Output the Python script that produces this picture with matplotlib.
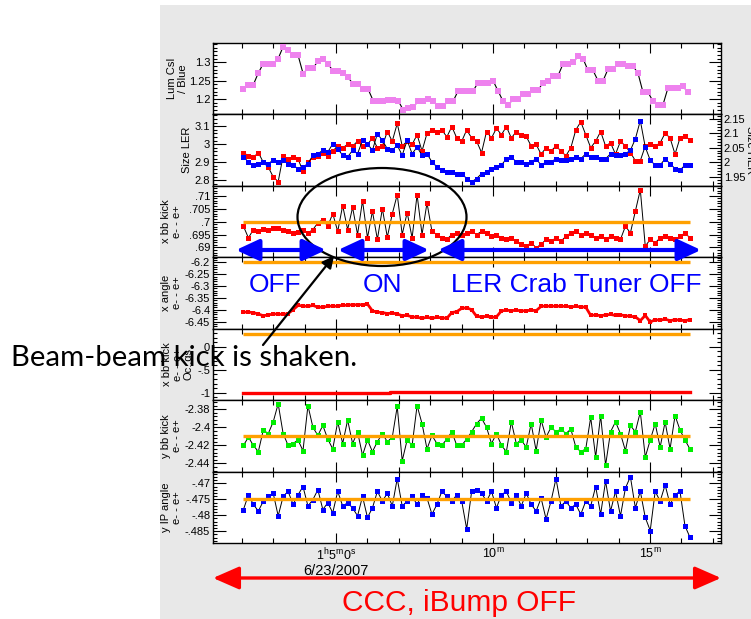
import numpy as np
import matplotlib
matplotlib.use('Agg')
import matplotlib.pyplot as plt
from matplotlib.patches import Ellipse, FancyArrowPatch, Rectangle, ArrowStyle
from matplotlib.ticker import AutoMinorLocator, MultipleLocator

plt.rcParams['font.family'] = ['Liberation Sans', 'DejaVu Sans']

# ---------------- data (time in minutes after 1h00m, 6/23/2007) ----------------
t_span = (2.05, 16.27)
lum_span = (2.04, 16.21)
x_limits = (1.08, 17.26)

lum = [1.227, 1.238, 1.238, 1.270, 1.296, 1.296, 1.296, 1.310, 1.343, 1.333,
       1.319, 1.319, 1.269, 1.285, 1.285, 1.304, 1.310, 1.296, 1.276, 1.276,
       1.270, 1.259, 1.241, 1.241, 1.227, 1.227, 1.196, 1.196, 1.196, 1.198,
       1.198, 1.196, 1.171, 1.175, 1.178, 1.194, 1.194, 1.200, 1.194, 1.180,
       1.180, 1.194, 1.194, 1.222,
       1.222, 1.222, 1.222, 1.245, 1.245, 1.245, 1.250, 1.222, 1.194, 1.183,
       1.200, 1.200, 1.213, 1.213, 1.224, 1.224, 1.245, 1.250, 1.264, 1.264,
       1.296, 1.296, 1.300, 1.317, 1.310, 1.278, 1.278, 1.250, 1.250, 1.282,
       1.282, 1.296, 1.296, 1.290, 1.290, 1.270, 1.218, 1.218, 1.194, 1.185,
       1.185, 1.231, 1.231, 1.231, 1.235, 1.218]

size_ler = [2.953, 2.935, 2.926, 2.953, 2.899, 2.872, 2.818, 2.791, 2.935, 2.917,
            2.926, 2.917, 2.850, 2.899, 2.926, 2.935, 2.953, 2.935, 2.962, 2.989,
            2.980, 2.998, 2.989, 3.016, 2.989, 2.998, 3.034, 2.980, 2.989, 3.070,
            3.016, 3.115, 2.990, 3.016, 2.998, 3.052, 2.962, 3.060, 3.079, 3.070,
            3.079, 3.040, 3.097, 3.034,
            3.016, 3.079, 3.034, 3.016, 2.953, 3.070, 3.034, 3.088, 3.052, 3.097,
            3.034, 3.070, 3.052, 3.043, 2.989, 2.998, 2.944, 2.980, 2.962, 2.989,
            2.962, 2.935, 2.980, 3.079, 3.124, 3.052, 2.980, 3.016, 3.070, 2.989,
            3.007, 2.944, 3.016, 2.989, 2.953, 2.908, 2.908, 2.989, 2.998, 2.989,
            3.007, 3.061, 3.034, 2.944, 3.034, 3.043, 3.025]

size_her = [2.018, 2.001, 1.990, 1.995, 2.001, 1.995, 2.007, 2.001, 2.007, 1.995,
            1.990, 1.978, 1.984, 1.995, 2.024, 2.029, 2.041, 2.035, 2.063, 2.046,
            2.024, 2.018, 2.041, 2.029, 2.075, 2.063, 2.041, 2.098, 2.075, 2.046,
            2.041, 2.058, 2.024, 2.075, 2.029, 2.052, 2.024, 2.029, 2.001, 1.984,
            1.973, 1.967, 1.967, 1.961,
            1.961, 1.944, 1.933, 1.944, 1.961, 1.967, 1.978, 1.984, 1.990, 2.012,
            2.018, 2.001, 2.001, 1.995, 2.001, 2.012, 1.990, 2.001, 2.001, 2.012,
            2.007, 2.007, 2.012, 2.018, 2.012, 2.029, 2.018, 2.018, 2.012, 2.012,
            2.029, 2.024, 2.024, 2.029, 2.041, 2.080, 2.143, 2.052, 2.007, 1.990,
            1.990, 2.012, 1.995, 1.978, 1.973, 1.990, 1.990]

x_bb_kick = [.6982, .6937, .6969, .6962, .6971, .6969, .6974, .6974, .6969, .6962,
             .6956, .6959, .6969, .6956, .6969, .6995, .7008, .6982, .7031, .6962,
             .7062, .6969, .7055, .6950, .7081, .6937, .7040, .6931, .7050, .6940,
             .7030, .7104, .6950, .7035, .6937, .7104, .6950, .7072, .6962, .6950,
             .6937, .6931, .6950, .6956,
             .6950, .6956, .6962, .6950, .6962, .6956, .6943, .6950, .6937, .6931,
             .6937, .6924, .6912, .6905, .6918, .6899, .6912, .6931, .6924, .6937,
             .6924, .6943, .6956, .6962, .6950, .6956, .6950, .6937, .6943, .6931,
             .6943, .6937, .6931, .6982, .6956, .7040, .7123, .6905, .6931, .6918,
             .6937, .6943, .6937, .6931, .6943, .6956, .6937]

x_angle = [-6.410, -6.410, -6.412, -6.418, -6.425, -6.422, -6.418, -6.418, -6.420, -6.416,
           -6.400, -6.382, -6.384, -6.386, -6.382, -6.389, -6.389, -6.386, -6.384, -6.386,
           -6.380, -6.382, -6.378, -6.380, -6.378, -6.376, -6.405, -6.410, -6.412, -6.416,
           -6.414, -6.418, -6.425, -6.424, -6.430, -6.432, -6.436, -6.432, -6.436, -6.432,
           -6.434, -6.436, -6.412, -6.408,
           -6.394, -6.392, -6.400, -6.428, -6.430, -6.428, -6.432, -6.430, -6.405, -6.402,
           -6.404, -6.402, -6.405, -6.404, -6.402, -6.404, -6.386, -6.384, -6.386, -6.384,
           -6.386, -6.385, -6.388, -6.386, -6.388, -6.389, -6.424, -6.422, -6.425, -6.422,
           -6.420, -6.424, -6.422, -6.425, -6.428, -6.430, -6.446, -6.424, -6.452, -6.442,
           -6.444, -6.440, -6.446, -6.442, -6.444, -6.446, -6.442]

x_bb_osc = [-1.0, -1.0, -0.995, -1.0, -1.0, -0.995, -1.0, -0.995, -1.0, -0.995,
            -0.99, -0.985, -0.99, -0.985, -0.99, -0.99, -0.985, -0.99, -0.985, -0.985,
            -0.99, -0.985, -0.99, -0.99, -0.985, -0.985, -0.98, -0.985, -0.98, -0.98]

y_bb_kick = [-2.420, -2.411, -2.420, -2.427, -2.403, -2.407, -2.394, -2.374, -2.407, -2.420,
             -2.418, -2.414, -2.426, -2.376, -2.400, -2.409, -2.398, -2.413, -2.424, -2.394,
             -2.418, -2.392, -2.418, -2.405, -2.431, -2.414, -2.427, -2.416, -2.407, -2.416,
             -2.411, -2.377, -2.437, -2.414, -2.420, -2.376, -2.396, -2.424, -2.409, -2.418,
             -2.420, -2.413, -2.405, -2.420,
             -2.420, -2.413, -2.405, -2.396, -2.390, -2.400, -2.418, -2.407, -2.420, -2.427,
             -2.394, -2.418, -2.414, -2.422, -2.396, -2.426, -2.392, -2.411, -2.400, -2.405,
             -2.402, -2.407, -2.402, -2.422, -2.427, -2.424, -2.389, -2.433, -2.387, -2.442,
             -2.405, -2.394, -2.407, -2.426, -2.398, -2.405, -2.383, -2.433, -2.414, -2.396,
             -2.422, -2.394, -2.424, -2.387, -2.403, -2.414, -2.424]

y_ip_angle = [-.4782, -.4736, -.4766, -.4787, -.4756, -.4741, -.4731, -.4802, -.4741, -.4725,
              -.4766, -.4736, -.4710, -.4771, -.4751, -.4720, -.4782, -.4761, -.4792, -.4725,
              -.4771, -.4761, -.4777, -.4802, -.4741, -.4807, -.4777, -.4725, -.4756, -.4731,
              -.4771, -.4685, -.4771, -.4756, -.4741, -.4766, -.4736, -.4746, -.4797, -.4766,
              -.4725, -.4741, -.4756, -.4736,
              -.4756, -.4843, -.4725, -.4720, -.4731, -.4756, -.4725, -.4777, -.4736, -.4725,
              -.4761, -.4736, -.4771, -.4731, -.4766, -.4787, -.4746, -.4812, -.4756, -.4685,
              -.4771, -.4756, -.4777, -.4766, -.4797, -.4756, -.4771, -.4710, -.4797, -.4693,
              -.4787, -.4725, -.4802, -.4715, -.4679, -.4777, -.4725, -.4807, -.4848, -.4725,
              -.4756, -.4705, -.4766, -.4736, -.4725, -.4833, -.4869]

# reference (orange) levels
ref_x_bb_kick = 0.7
ref_x_angle = -6.2
ref_x_bb_osc = 0.285
ref_y_bb_kick = -2.41
ref_y_ip_angle = -0.475

# axis settings
ylabels = ['Lum CsI\n/ Blue', 'Size LER', 'x bb kick\ne- - e+', 'x angle\ne- - e+',
           'x bb kick\ne- - e+\nOc..gs', 'y bb kick\ne- - e+', 'y IP angle\ne- - e+']
ylims = [(1.158, 1.353), (2.768, 3.165), (0.6862, 0.7138), (-6.48, -6.179),
         (-1.16, 0.394), (-2.449, -2.370), (-0.4887, -0.4663)]
yticks = [[1.2, 1.25, 1.3], [2.8, 2.9, 3.0, 3.1], [.69, .695, .7, .705, .71],
          [-6.45, -6.4, -6.35, -6.3, -6.25, -6.2], [-1, -.5, 0],
          [-2.44, -2.42, -2.4, -2.38], [-.485, -.48, -.475, -.47]]
yticklabels = [['1.2', '1.25', '1.3'], ['2.8', '2.9', '3', '3.1'],
               ['.69', '.695', '.7', '.705', '.71'],
               ['-6.45', '-6.4', '-6.35', '-6.3', '-6.25', '-6.2'], ['-1', '-.5', '0'],
               ['-2.44', '-2.42', '-2.4', '-2.38'], ['-.485', '-.48', '-.475', '-.47']]
her_lim = (1.919, 2.164)
her_ticks = [1.95, 2.0, 2.05, 2.1, 2.15]
her_ticklabels = ['1.95', '2', '2.05', '2.1', '2.15']
xtick_pos = [5, 10, 15]
xtick_labels = [r'$\mathregular{1^{h}5^{m}0^{s}}$', r'$\mathregular{10^{m}}$', r'$\mathregular{15^{m}}$']
date_label = '6/23/2007'
label_right_px = [188, 192, 182, 182, 194, 182, 182]

# ---------------- figure ----------------
W, H = 751, 619
def P(x, y):
    return (x / W, 1 - y / H)

fig = plt.figure(figsize=(W / 100, H / 100), dpi=100)
fig.patch.set_facecolor('white')
fig.patches.append(Rectangle(P(160, 619), 1, (619 - 5) / H, transform=fig.transFigure,
                             facecolor='#e8e8e8', edgecolor='none', zorder=-10))

axes = fig.subplots(7, 1, sharex=True, gridspec_kw=dict(hspace=0))
fig.subplots_adjust(left=213 / W, right=721 / W, top=1 - 43 / H, bottom=1 - 543 / H)

RED, BLUE, GREEN, PINK, ORANGE = '#ff0000', '#0000ff', '#00ee00', '#ee82ee', '#ffa000'

def tgrid(values, span):
    return np.linspace(span[0], span[1], len(values))

def dotted_series(ax, vals, color, span=t_span, ms=3.6, lw=0.7):
    t = tgrid(vals, span)
    ax.plot(t, vals, color='black', lw=lw, zorder=2)
    ax.plot(t, vals, ls='none', marker='s', ms=ms, color=color, mec=color, mew=0, zorder=3)

def ref_line(ax, level):
    ax.plot(t_span, [level, level], color=ORANGE, lw=2.4, zorder=4, solid_capstyle='butt')

# Panel 1
dotted_series(axes[0], lum, PINK, span=lum_span, ms=4.8, lw=0.8)
# Panel 2
dotted_series(axes[1], size_ler, RED)
ax_her = axes[1].twinx()
dotted_series(ax_her, size_her, BLUE)
ax_her.set_ylim(*her_lim)
ax_her.set_yticks(her_ticks, her_ticklabels)
ax_her.yaxis.set_minor_locator(MultipleLocator(0.01))
ax_her.tick_params(axis='y', which='both', direction='in', labelsize=8, pad=2, width=0.8)
ax_her.tick_params(axis='y', which='major', length=9)
ax_her.tick_params(axis='y', which='minor', length=3)
ax_her.set_ylabel('Size HER', rotation=270, fontsize=8, va='bottom')
ax_her.yaxis.set_label_coords((745 - 213) / 508, 0.5)
# Panel 3
dotted_series(axes[2], x_bb_kick, RED)
ref_line(axes[2], ref_x_bb_kick)
# Panel 4
t4 = tgrid(x_angle, t_span)
axes[3].plot(t4, x_angle, color=RED, lw=2.0, zorder=2)
axes[3].plot(t4, x_angle, ls='none', marker='s', ms=3.0, color=RED, mew=0, zorder=3)
ref_line(axes[3], ref_x_angle)
# Panel 5
t5 = tgrid(x_bb_osc, t_span)
axes[4].plot(t5, x_bb_osc, color=RED, lw=2.4, zorder=2, drawstyle='steps-mid')
ref_line(axes[4], ref_x_bb_osc)
# Panel 6
dotted_series(axes[5], y_bb_kick, GREEN)
ref_line(axes[5], ref_y_bb_kick)
# Panel 7
dotted_series(axes[6], y_ip_angle, BLUE)
ref_line(axes[6], ref_y_ip_angle)

for i, ax in enumerate(axes):
    ax.set_facecolor('white')
    ax.set_zorder(1)
    ax.set_xlim(*x_limits)
    ax.set_ylim(*ylims[i])
    ax.set_yticks(yticks[i], yticklabels[i])
    ax.yaxis.set_minor_locator(AutoMinorLocator(5))
    ax.set_xticks(xtick_pos)
    ax.xaxis.set_minor_locator(MultipleLocator(1))
    ax.tick_params(axis='both', which='both', direction='in', top=True,
                   right=(i != 1), labelsize=8, width=0.8, pad=2)
    ax.tick_params(axis='y', which='major', length=9)
    ax.tick_params(axis='y', which='minor', length=3)
    ax.tick_params(axis='x', which='major', length=7)
    ax.tick_params(axis='x', which='minor', length=3.5)
    for s in ax.spines.values():
        s.set_linewidth(1.0)
    ax.set_ylabel(ylabels[i], fontsize=8, linespacing=1.15)
    ax.yaxis.set_label_coords((label_right_px[i] - 213) / 508, 0.5)
    if i < 6:
        ax.tick_params(axis='x', labelbottom=False)

ax_her.set_zorder(2)
ax_her.patch.set_visible(False)
axes[6].set_xticklabels(xtick_labels, fontsize=9)
axes[6].tick_params(axis='x', which='major', pad=3)
fig.text(*P(336, 571), date_label, fontsize=10.5, ha='center', va='center')

# ---------------- overlay annotations ----------------
fig.add_artist(Ellipse(P(382, 217), 169 / W, 98 / H, transform=fig.transFigure,
                       fill=False, edgecolor='black', lw=1.6, zorder=10))

blue_style = ArrowStyle('<|-|>', head_length=14, head_width=6.5)
for x0, x1 in [(236, 326), (338, 429), (438, 701)]:
    fig.add_artist(FancyArrowPatch(P(x0, 250), P(x1, 250), transform=fig.transFigure,
                                   arrowstyle=blue_style, mutation_scale=1, lw=3.0,
                                   color=BLUE, shrinkA=0, shrinkB=0, zorder=11))

fig.text(*P(275, 285), 'OFF', color=BLUE, fontsize=19, ha='center', va='center', zorder=12)
fig.text(*P(383, 285), 'ON', color=BLUE, fontsize=19, ha='center', va='center', zorder=12)
fig.text(*P(576, 285), 'LER Crab Tuner OFF', color=BLUE, fontsize=19, ha='center',
         va='center', zorder=12)

fig.add_artist(FancyArrowPatch(P(263, 345), P(334, 256), transform=fig.transFigure,
                               arrowstyle=ArrowStyle('-|>', head_length=7, head_width=3.5),
                               mutation_scale=1, lw=1.6, color='black',
                               shrinkA=0, shrinkB=0, zorder=11))

fig.text(*P(11, 358), 'Beam-beam kick is shaken.', color='black', fontsize=21.2,
         family=['Lato', 'DejaVu Sans'], ha='left', va='center', zorder=12)

red_style = ArrowStyle('<|-|>', head_length=16, head_width=7)
fig.add_artist(FancyArrowPatch(P(213, 578), P(721, 578), transform=fig.transFigure,
                               arrowstyle=red_style, mutation_scale=1, lw=2.4,
                               color=RED, shrinkA=0, shrinkB=0, zorder=11))
fig.text(*P(459, 603), 'CCC, iBump OFF', color=RED, fontsize=21.5, ha='center',
         va='center', zorder=12)

fig.savefig('out.png', dpi=100)
